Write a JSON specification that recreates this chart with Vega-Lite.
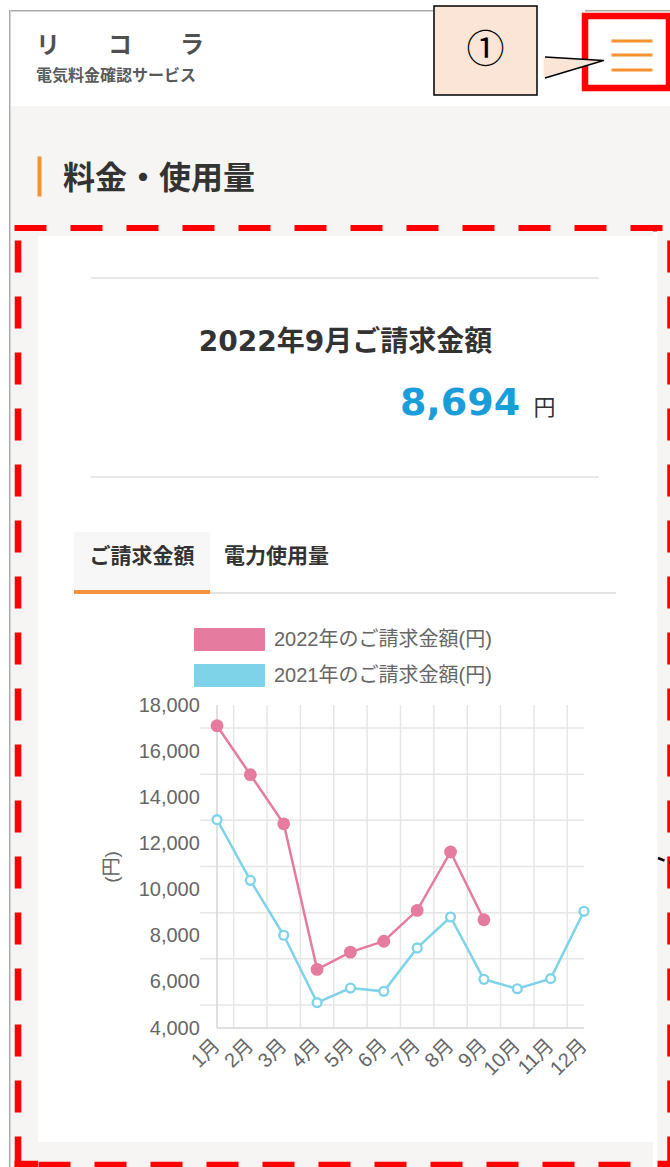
{
  "$schema": "https://vega.github.io/schema/vega-lite/v6.json",
  "padding": 0,
  "background": "#ffffff",
  "spacing": 0,
  "config": {"view": {"stroke": null}, "concat": {"spacing": 0}, "font": "Noto Sans CJK JP"},
  "hconcat": [
    {"width": 8.5, "height": 1167, "data": {"values": []}, "mark": "text"},
    {"spacing": 0, "vconcat": [
      {"width": 1.5, "height": 10, "data": {"values": []}, "mark": "text"},
      {"width": 1.5, "height": 1157, "data": {"values": []}, "mark": "text", "view": {"fill": "#a8a8a8"}}
    ]},
    {"spacing": 0, "vconcat": [
      {"spacing": 0, "hconcat": [
        {"spacing": 0, "vconcat": [
          {"width": 422, "height": 10, "data": {"values": []}, "mark": "text"},
          {"width": 422, "height": 1.5, "data": {"values": []}, "mark": "text", "view": {"fill": "#a8a8a8"}},
          {"width": 422, "height": 93.5, "data": {"values": []}, "mark": "text",
           "title": {"text": "リ　　コ　　ラ", "subtitle": "電気料金確認サービス", "anchor": "start", "orient": "top", "offset": -71.5, "dx": 25,
                     "font": "Noto Sans CJK JP", "fontSize": 24, "fontWeight": "bold", "color": "#505050",
                     "subtitleFont": "Noto Sans CJK JP", "subtitleFontSize": 16, "subtitleFontWeight": "bold", "subtitleColor": "#5a5a5a", "subtitlePadding": 10}}
        ]},
        {"spacing": 0, "vconcat": [
          {"width": 106, "height": 5, "data": {"values": []}, "mark": "text"},
          {"width": 103, "height": 89, "view": {"fill": "#fbe5d6", "stroke": "#000000", "strokeWidth": 1.5},
           "data": {"values": [{"label": "①"}]},
           "mark": {"type": "text", "fontSize": 38, "color": "#000000", "baseline": "middle", "font": "Noto Sans CJK JP"},
           "encoding": {"text": {"field": "label"}}},
          {"width": 106, "height": 8, "data": {"values": []}, "mark": "text"}
        ]},
        {"spacing": 0, "vconcat": [
          {"width": 132, "height": 10, "data": {"values": []}, "mark": "text"},
          {"width": 132, "height": 1.5, "data": {"values": []}, "mark": "text", "view": {"fill": "#a8a8a8"}},
          {"width": 84, "height": 72, "view": {"stroke": "#ff0000", "strokeWidth": 6.5},
           "layer": [
             {"data": {"values": [{"part": "callout tail"}]},
              "mark": {"type": "point", "shape": "M-4.175,0.25L-1.175,0.425L-4.175,1.3Z", "size": 1600, "filled": true, "fill": "#fbe5d6", "strokeWidth": 0, "opacity": 1}},
             {"data": {"values": [{"part": "callout tail edge"}]},
              "mark": {"type": "point", "shape": "M-4.1,0.25L-1.175,0.425L-4.1,1.3", "size": 1600, "filled": false, "stroke": "#000000", "strokeWidth": 1.5, "strokeJoin": "round", "opacity": 1}},
             {"data": {"values": [{"part": "menu"}]},
              "mark": {"type": "point", "shape": "M-0.775,-0.625H1.275V-0.475H-0.775Z M-0.775,0.075H1.275V0.225H-0.775Z M-0.775,0.825H1.275V0.975H-0.775Z", "size": 1600, "filled": true, "fill": "#f5922f", "strokeWidth": 0, "opacity": 1}}
           ]},
          {"width": 132, "height": 8.5, "data": {"values": []}, "mark": "text"}
        ]}
      ]},
      {"width": 660, "height": 125, "view": {"fill": "#f6f5f3"},
       "data": {"values": []},
       "mark": "point",
       "encoding": {
         "x": {"field": "a", "type": "quantitative", "scale": {"domain": [0, 1], "range": [3, 658]},
               "axis": {"orient": "bottom", "offset": -3.25, "labels": false, "ticks": false, "grid": false, "title": null, "domainColor": "#ff0000", "domainWidth": 6.5, "domainDash": [32, 24]}},
         "y": {"field": "b", "type": "quantitative", "scale": {"domain": [0, 1], "range": [90, 50]},
               "axis": {"orient": "left", "offset": -28, "labels": false, "ticks": false, "grid": false, "title": null, "domainColor": "#f39232", "domainWidth": 4}}
       },
       "title": {"text": "料金・使用量", "anchor": "start", "orient": "top", "offset": -90, "dx": 52,
                 "font": "Noto Sans CJK JP", "fontSize": 32, "fontWeight": "bold", "color": "#333333"}},
      {"spacing": 0, "hconcat": [
        {"width": 27, "height": 937, "view": {"fill": "#f6f5f3"},
         "data": {"values": []},
         "mark": "point",
         "encoding": {
           "x": {"field": "a", "type": "quantitative", "scale": {"domain": [0, 1], "range": [3, 27]},
                 "axis": {"orient": "bottom", "offset": -4.5, "labels": false, "ticks": false, "grid": false, "title": null, "domainColor": "#ff0000", "domainWidth": 6.5, "domainDash": [32, 24]}},
           "y": {"field": "b", "type": "quantitative", "scale": {"domain": [0, 1]},
                 "axis": {"orient": "left", "offset": -6.5, "labels": false, "ticks": false, "grid": false, "title": null, "domainColor": "#ff0000", "domainWidth": 6.5, "domainDash": [32, 24]}}
         }},
        {"spacing": 0,
         "resolve": {"scale": {"color": "independent"}, "legend": {"color": "independent"}},
         "vconcat": [
          {"width": 615, "height": 5, "data": {"values": []}, "mark": "text", "view": {"fill": "#f6f5f3"}},
          {"width": 615, "height": 41, "data": {"values": []}, "mark": "text"},
          {"spacing": 0, "hconcat": [
            {"width": 53, "height": 2, "data": {"values": []}, "mark": "text"},
            {"width": 508, "height": 2, "data": {"values": []}, "mark": "text", "view": {"fill": "#e8e8ea"}},
            {"width": 54, "height": 2, "data": {"values": []}, "mark": "text"}
          ]},
          {"width": 615, "height": 22, "data": {"values": []}, "mark": "text"},
          {"width": 615, "height": 84, "data": {"values": [{"label": "2022年9月ご請求金額"}]},
           "mark": {"type": "text", "fontSize": 28, "fontWeight": "bold", "font": "DejaVu Sans, Noto Sans CJK JP", "color": "#333333", "baseline": "middle"},
           "encoding": {"text": {"field": "label"}}},
          {"spacing": 0, "hconcat": [
            {"width": 351, "height": 58, "data": {"values": []}, "mark": "text"},
            {"width": 142, "height": 58, "data": {"values": [{"amount": "8,694"}]},
             "mark": {"type": "text", "fontSize": 38, "fontWeight": "bold", "font": "DejaVu Sans", "color": "#1b9dd9", "baseline": "alphabetic"},
             "encoding": {"text": {"field": "amount"}}},
            {"width": 27, "height": 58, "data": {"values": [{"unit": "円"}]},
             "mark": {"type": "text", "fontSize": 22, "font": "Noto Sans CJK JP", "color": "#333333", "baseline": "alphabetic"},
             "encoding": {"text": {"field": "unit"}}},
            {"width": 95, "height": 58, "data": {"values": []}, "mark": "text"}
          ]},
          {"width": 615, "height": 32, "data": {"values": []}, "mark": "text"},
          {"spacing": 0, "hconcat": [
            {"width": 53, "height": 2, "data": {"values": []}, "mark": "text"},
            {"width": 508, "height": 2, "data": {"values": []}, "mark": "text", "view": {"fill": "#e8e8ea"}},
            {"width": 54, "height": 2, "data": {"values": []}, "mark": "text"}
          ]},
          {"width": 615, "height": 54, "data": {"values": []}, "mark": "text"},
          {"spacing": 0, "hconcat": [
            {"width": 36, "height": 58, "data": {"values": []}, "mark": "text"},
            {"spacing": 0, "vconcat": [
              {"width": 136, "height": 50, "view": {"fill": "#f7f7f7"}, "data": {"values": [{"tab": "ご請求金額"}]},
               "mark": {"type": "text", "fontSize": 21, "fontWeight": "bold", "font": "Noto Sans CJK JP", "color": "#333333", "baseline": "middle"},
               "encoding": {"text": {"field": "tab"}}},
              {"width": 136, "height": 8, "data": {"values": []}, "mark": "text", "view": {"fill": "#f7f7f7"}}
            ]},
            {"spacing": 0, "vconcat": [
              {"width": 133, "height": 50, "data": {"values": [{"tab": "電力使用量"}]},
               "mark": {"type": "text", "fontSize": 21, "fontWeight": "bold", "font": "Noto Sans CJK JP", "color": "#333333", "baseline": "middle"},
               "encoding": {"text": {"field": "tab"}}},
              {"width": 133, "height": 8, "data": {"values": []}, "mark": "text"}
            ]},
            {"width": 310, "height": 58, "data": {"values": []}, "mark": "text"}
          ]},
          {"spacing": 0, "hconcat": [
            {"width": 36, "height": 4, "data": {"values": []}, "mark": "text"},
            {"width": 136, "height": 4, "data": {"values": []}, "mark": "text", "view": {"fill": "#f6923a"}},
            {"spacing": 0, "vconcat": [
              {"width": 406, "height": 2, "data": {"values": []}, "mark": "text"},
              {"width": 406, "height": 2, "data": {"values": []}, "mark": "text", "view": {"fill": "#e3e3e6"}}
            ]},
            {"width": 37, "height": 4, "data": {"values": []}, "mark": "text"}
          ]},
          {"width": 615, "height": 548,
           "data": {"values": [
             {"month": "1月", "series": "2022年のご請求金額(円)", "value": 17100},
             {"month": "2月", "series": "2022年のご請求金額(円)", "value": 14980},
             {"month": "3月", "series": "2022年のご請求金額(円)", "value": 12850},
             {"month": "4月", "series": "2022年のご請求金額(円)", "value": 6540},
             {"month": "5月", "series": "2022年のご請求金額(円)", "value": 7290},
             {"month": "6月", "series": "2022年のご請求金額(円)", "value": 7760},
             {"month": "7月", "series": "2022年のご請求金額(円)", "value": 9100},
             {"month": "8月", "series": "2022年のご請求金額(円)", "value": 11630},
             {"month": "9月", "series": "2022年のご請求金額(円)", "value": 8694},
             {"month": "1月", "series": "2021年のご請求金額(円)", "value": 13030},
             {"month": "2月", "series": "2021年のご請求金額(円)", "value": 10400},
             {"month": "3月", "series": "2021年のご請求金額(円)", "value": 8020},
             {"month": "4月", "series": "2021年のご請求金額(円)", "value": 5100},
             {"month": "5月", "series": "2021年のご請求金額(円)", "value": 5730},
             {"month": "6月", "series": "2021年のご請求金額(円)", "value": 5590},
             {"month": "7月", "series": "2021年のご請求金額(円)", "value": 7470},
             {"month": "8月", "series": "2021年のご請求金額(円)", "value": 8810},
             {"month": "9月", "series": "2021年のご請求金額(円)", "value": 6110},
             {"month": "10月", "series": "2021年のご請求金額(円)", "value": 5700},
             {"month": "11月", "series": "2021年のご請求金額(円)", "value": 6140},
             {"month": "12月", "series": "2021年のご請求金額(円)", "value": 9060}
           ]},
           "layer": [
             {"data": {"values": [{"g": 5000}, {"g": 7000}, {"g": 9000}, {"g": 11000}, {"g": 13000}, {"g": 15000}, {"g": 17000}]},
              "mark": {"type": "rule", "color": "#e6e6e6", "strokeWidth": 1.5},
              "encoding": {
                "y": {"field": "g", "type": "quantitative"},
                "x": {"datum": "1月", "type": "ordinal", "bandPosition": 0},
                "x2": {"datum": "12月"}}},
             {"data": {"values": [{"m": "2月"}, {"m": "3月"}, {"m": "4月"}, {"m": "5月"}, {"m": "6月"}, {"m": "7月"}, {"m": "8月"}, {"m": "9月"}, {"m": "10月"}, {"m": "11月"}, {"m": "12月"}]},
              "mark": {"type": "rule", "color": "#e6e6e6", "strokeWidth": 1.5},
              "encoding": {
                "x": {"field": "m", "type": "ordinal", "bandPosition": 0},
                "y": {"datum": 18000, "type": "quantitative"},
                "y2": {"datum": 4000}}},
             {"data": {"values": [{"axis": "y"}]},
              "mark": {"type": "rule", "color": "#d6d6d6", "strokeWidth": 1.5},
              "encoding": {
                "x": {"datum": "1月", "type": "ordinal"},
                "y": {"datum": 4000, "type": "quantitative"},
                "y2": {"datum": 18000}}},
             {"data": {"values": [{"axis": "x"}]},
              "mark": {"type": "rule", "color": "#d6d6d6", "strokeWidth": 1.5},
              "encoding": {
                "y": {"datum": 4000, "type": "quantitative"},
                "x": {"datum": "1月", "type": "ordinal"},
                "x2": {"datum": "12月"}}},
             {"mark": {"type": "line", "strokeWidth": 2.5},
              "encoding": {
                "x": {"field": "month", "type": "ordinal",
                      "scale": {"type": "band", "domain": ["1月", "2月", "3月", "4月", "5月", "6月", "7月", "8月", "9月", "10月", "11月", "12月"], "range": [162.32, 562.68], "paddingInner": 0, "paddingOuter": 0},
                      "axis": {"orient": "bottom", "offset": -114, "title": null, "domain": false, "ticks": false, "tickSize": 0, "grid": false, "labelAngle": -45, "labelAlign": "right", "labelBaseline": "middle",
                               "labelPadding": 14, "labelFontSize": 20, "labelColor": "#666666", "labelFont": "Liberation Sans, Noto Sans CJK JP", "labelOverlap": false}},
                "y": {"field": "value", "type": "quantitative",
                      "scale": {"domain": [4000, 18000], "range": [434, 111], "nice": false, "zero": false},
                      "axis": {"orient": "left", "offset": -162.32, "title": "(円)", "values": [4000, 6000, 8000, 10000, 12000, 14000, 16000, 18000], "format": ",.0f", "domain": false, "ticks": false, "tickSize": 0, "grid": false,
                               "labelPadding": 1, "labelFontSize": 20, "labelColor": "#666666", "labelFont": "Liberation Sans, Noto Sans CJK JP",
                               "titleFontSize": 19, "titleFontWeight": "normal", "titleColor": "#666666", "titleFont": "Liberation Sans, Noto Sans CJK JP", "titlePadding": 17}},
                "color": {"field": "series", "type": "nominal",
                          "scale": {"domain": ["2022年のご請求金額(円)", "2021年のご請求金額(円)"], "range": ["#e57ca0", "#7ed3e8"]}}}},
             {"transform": [{"filter": "datum.series === '2022年のご請求金額(円)'"}],
              "mark": {"type": "point", "filled": true, "size": 165, "opacity": 1},
              "encoding": {
                "x": {"field": "month", "type": "ordinal"},
                "y": {"field": "value", "type": "quantitative"},
                "color": {"field": "series", "type": "nominal",
                          "legend": {"orient": "none", "legendX": 156, "legendY": 34, "title": null, "direction": "vertical",
                                     "symbolType": "M-1,-1H5.36V1H-1Z", "symbolSize": 484, "symbolStrokeWidth": 0, "symbolOpacity": 1,
                                     "labelFontSize": 20, "labelColor": "#666666", "labelFont": "Liberation Sans, Noto Sans CJK JP",
                                     "labelOffset": 57, "rowPadding": 9, "padding": 0, "labelLimit": 400,
                                     "encode": {"symbols": {"update": {
                                       "fill": {"signal": "datum.value === '2022年のご請求金額(円)' ? '#e57ca0' : '#7ed3e8'"},
                                       "stroke": {"signal": "datum.value === '2022年のご請求金額(円)' ? '#f09dbb' : '#a5e2f0'"},
                                       "strokeWidth": {"value": 1},
                                       "opacity": {"value": 1}}}}}}}},
             {"transform": [{"filter": "datum.series === '2021年のご請求金額(円)'"}],
              "mark": {"type": "point", "filled": true, "size": 125, "opacity": 1},
              "encoding": {
                "x": {"field": "month", "type": "ordinal"},
                "y": {"field": "value", "type": "quantitative"},
                "color": {"field": "series", "type": "nominal"}}},
             {"transform": [{"filter": "datum.series === '2021年のご請求金額(円)'"}],
              "mark": {"type": "point", "filled": true, "size": 42, "opacity": 1, "color": "#ffffff"},
              "encoding": {
                "x": {"field": "month", "type": "ordinal"},
                "y": {"field": "value", "type": "quantitative"}}}
           ]},
          {"width": 615, "height": 27, "view": {"fill": "#f6f5f3"},
           "data": {"values": []},
           "mark": "point",
           "encoding": {
             "x": {"field": "a", "type": "quantitative", "scale": {"domain": [0, 1]},
                   "axis": {"orient": "bottom", "offset": -4.5, "labels": false, "ticks": false, "grid": false, "title": null, "domainColor": "#ff0000", "domainWidth": 6.5, "domainDash": [32, 24]}}
           }}
        ]},
        {"width": 18, "height": 937, "view": {"fill": "#f6f5f3"},
         "layer": [
           {"data": {"values": []},
            "mark": "point",
            "encoding": {
              "x": {"field": "a", "type": "quantitative", "scale": {"domain": [0, 1], "range": [0, 16]},
                    "axis": {"orient": "bottom", "offset": -4.5, "labels": false, "ticks": false, "grid": false, "title": null, "domainColor": "#ff0000", "domainWidth": 6.5, "domainDash": [32, 24]}},
              "y": {"field": "b", "type": "quantitative", "scale": {"domain": [0, 1]},
                    "axis": {"orient": "right", "offset": -5, "labels": false, "ticks": false, "grid": false, "title": null, "domainColor": "#ff0000", "domainWidth": 6.5, "domainDash": [32, 24]}}
            }},
           {"data": {"values": [{"part": "pointer"}]},
            "mark": {"type": "point", "shape": "M-0.04,0.7925L0.035,0.8225", "size": 160000, "filled": false, "stroke": "#000000", "strokeWidth": 2.5, "strokeDash": [7, 5], "opacity": 1}}
         ]}
      ]}
    ]}
  ]
}
